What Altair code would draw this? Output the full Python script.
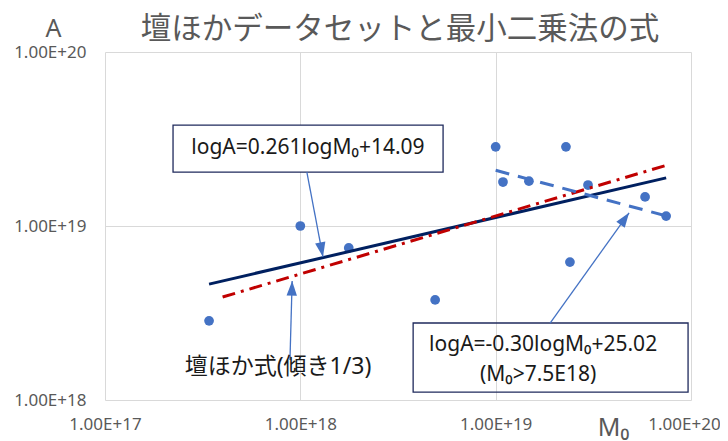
import math
import altair as alt
import pandas as pd

# ---------------- data ----------------
m0_values = [3.41e17, 1.0e18, 1.77e18, 4.9e18, 1.0e19, 1.09e19, 1.48e19,
             2.29e19, 2.40e19, 2.97e19, 5.82e19, 7.46e19]
a_values = [2.85e18, 1.0e19, 7.48e18, 3.76e18, 2.85e19, 1.79e19, 1.81e19,
            2.85e19, 6.2e18, 1.72e19, 1.47e19, 1.14e19]

# fitted / empirical lines (log10 A = slope * log10 M0 + intercept)
ls_slope, ls_icpt = 0.261, 14.09
ls_range = [3.41e17, 7.46e19]
dan_slope, dan_icpt = 1.0 / 3.0, math.log10(2.46e10) + 7.0 / 3.0
dan_range = [4.0e17, 7.5e19]
big_slope, big_icpt = -0.30, 25.02
big_range = [1.0e19, 7.46e19]

x_ticks = [1e17, 1e18, 1e19, 1e20]
y_ticks = [1e18, 1e19, 1e20]

title_text = "壇ほかデータセットと最小二乗法の式"
label_ls = "logA=0.261logM₀+14.09"
label_big1 = "logA=-0.30logM₀+25.02"
label_big2 = "(M₀>7.5E18)"
label_dan = "壇ほか式(傾き1/3)"

# annotation anchor positions (data coordinates)
box1 = dict(x1=2.23e17, x2=5.38e18, y1=3.80e19, y2=2.04e19)
box3 = dict(x1=3.78e18, x2=9.66e19, y1=2.77e18, y2=1.11e18)
arrows = [  # start M0, start A, end M0, end A
    (1.08e18, 2.04e19, 1.306e18, 6.64e18),
    (8.85e17, 1.70e18, 9.08e17, 4.83e18),
    (1.90e19, 2.77e18, 4.82e19, 1.19e19),
]
texts = [
    (label_ls, 1.094e18, 2.81e19, 21),
    (label_big1, 1.75e19, 2.07e18, 21),
    (label_big2, 1.65e19, 1.39e18, 21),
    (label_dan, 7.69e17, 1.55e18, 23),
]

# ---------------- layout ----------------
W, H = 586, 348
GRAY = "#595959"
LATIN = "Noto Sans, Noto Sans CJK JP"
CJK = "Noto Sans CJK JP"

xs = alt.Scale(type="log", domain=[1e17, 1e20], nice=False)
ys = alt.Scale(type="log", domain=[1e18, 1e20], nice=False)
fmt = "upper(format(datum.value, '.2e'))"

xaxis = alt.Axis(values=x_ticks, labelExpr=fmt, title="M₀", grid=True, ticks=False,
                 domain=False, labelPadding=16, labelFontSize=17, labelColor=GRAY,
                 labelFont=LATIN, labelFlush=False, labelOverlap=False,
                 labelOffset={"expr": "datum.value > 5e19 ? -7 : 0"},
                 gridColor="#D9D9D9", titleFont=LATIN, titleFontSize=25,
                 titleFontWeight="normal", titleColor=GRAY, titleX=508, titleY=27,
                 titleAlign="center", titleBaseline="middle")
yaxis = alt.Axis(values=y_ticks, labelExpr=fmt, title="A", grid=True, ticks=False,
                 domain=False, labelPadding=19, labelFontSize=17, labelColor=GRAY,
                 labelFont=LATIN, labelFlush=False, labelOverlap=False,
                 gridColor="#D9D9D9", titleFont=LATIN, titleFontSize=25,
                 titleFontWeight="normal", titleColor=GRAY, titleAngle=0,
                 titleX=-52, titleY=-24, titleAlign="center", titleBaseline="middle")


def X(field):
    return alt.X(field, type="quantitative", scale=xs, axis=xaxis)


def Y(field):
    return alt.Y(field, type="quantitative", scale=ys, axis=yaxis)


def line_df(slope, icpt, rng):
    return pd.DataFrame({"M0": rng, "A": [10 ** (slope * math.log10(m) + icpt) for m in rng]})


def px(m):
    return W * (math.log10(m) - 17) / 3


def py(a):
    return H * (20 - math.log10(a)) / 2


pts = pd.DataFrame({"M0": m0_values, "A": a_values})

points = alt.Chart(pts).mark_circle(size=95, color="#4472C4", opacity=1).encode(
    x=X("M0"), y=Y("A"))

ls_line = alt.Chart(line_df(ls_slope, ls_icpt, ls_range)).mark_line(
    color="#002060", strokeWidth=3).encode(x=X("M0"), y=Y("A"))
dan_line = alt.Chart(line_df(dan_slope, dan_icpt, dan_range)).mark_line(
    color="#C00000", strokeWidth=3, strokeDash=[13, 6, 3, 6]).encode(x=X("M0"), y=Y("A"))
big_line = alt.Chart(line_df(big_slope, big_icpt, big_range)).mark_line(
    color="#4472C4", strokeWidth=3, strokeDash=[14, 9]).encode(x=X("M0"), y=Y("A"))

box1_df = pd.DataFrame([box1])
box3_df = pd.DataFrame([box3])
box1_mark = alt.Chart(box1_df).mark_rect(fill="white", stroke="#1F2A5C", strokeWidth=1.3).encode(
    x=X("x1"), x2="x2", y=Y("y1"), y2="y2")
box3_mark = alt.Chart(box3_df).mark_rect(fillOpacity=0, stroke="#1F2A5C", strokeWidth=1.3).encode(
    x=X("x1"), x2="x2", y=Y("y1"), y2="y2")

arr_df = pd.DataFrame(arrows, columns=["xs", "ys", "xe", "ye"])
arr_df["ang"] = [
    math.degrees(math.atan2(px(r.xe) - px(r.xs), -(py(r.ye) - py(r.ys)))) % 360
    for r in arr_df.itertuples()
]
arrow_lines = alt.Chart(arr_df).mark_rule(color="#4472C4", strokeWidth=1.3).encode(
    x=X("xs"), y=Y("ys"), x2="xe", y2="ye")
arrow_heads = alt.Chart(arr_df).mark_point(
    shape="M0,0L0.85,2.4L-0.85,2.4Z", filled=True, size=150, color="#4472C4", opacity=1
).encode(x=X("xe"), y=Y("ye"), angle=alt.Angle("ang:Q", scale=None))

txt_df = pd.DataFrame(texts, columns=["t", "M0", "A", "fs"])
text_marks = alt.Chart(txt_df).mark_text(font=LATIN, color="#1A1A1A", baseline="middle",
                                         align="center").encode(
    x=X("M0"), y=Y("A"), text="t:N", size=alt.Size("fs:Q", scale=None))

title_mark = alt.Chart(pd.DataFrame({"t": [title_text]})).mark_text(
    font=CJK, fontSize=30.5, color=GRAY, baseline="middle", align="center"
).encode(x=alt.value(295), y=alt.value(-22), text="t:N")

chart = alt.layer(
    points, ls_line, dan_line, big_line, box1_mark, box3_mark,
    arrow_lines, arrow_heads, text_marks, title_mark
).properties(
    width=W, height=H,
    autosize=alt.AutoSizeParams(type="none"),
    padding={"left": 97, "top": 44, "right": 29, "bottom": 41},
).configure_view(stroke=None)

chart.save("out.html", embed_options={"renderer": "svg", "actions": False})
